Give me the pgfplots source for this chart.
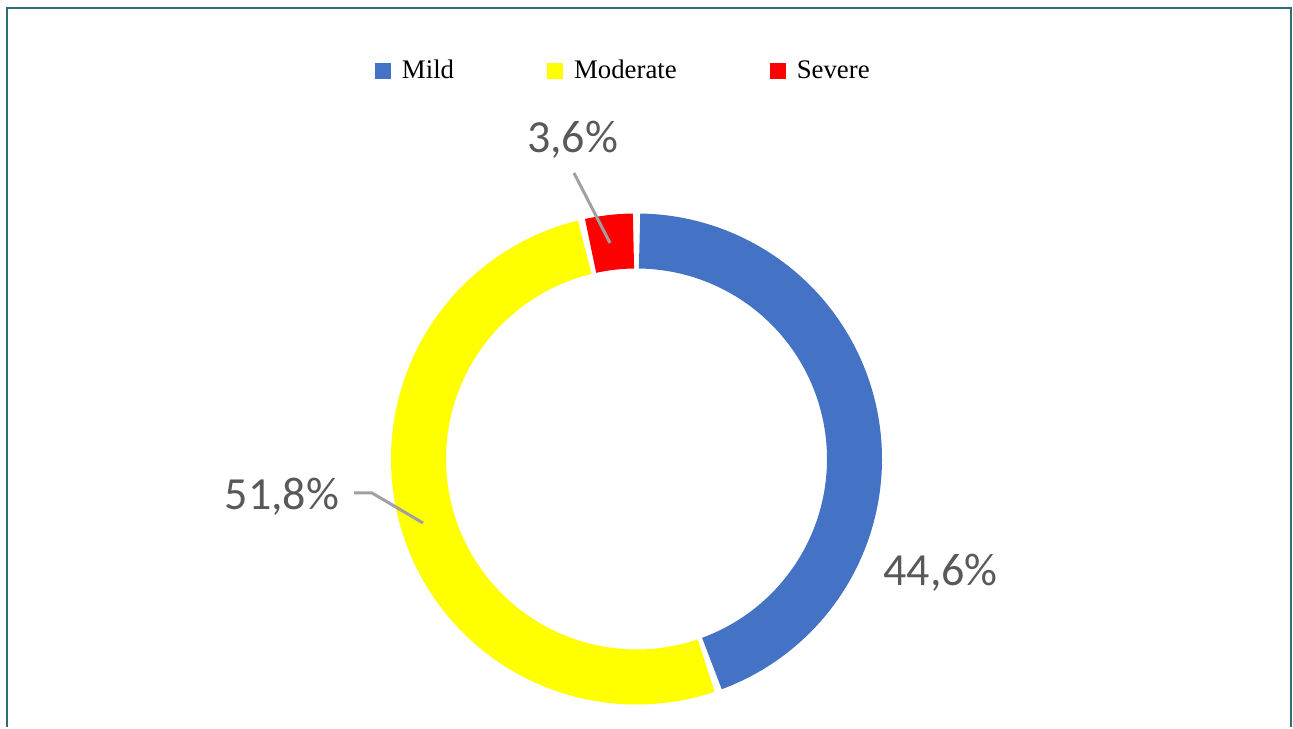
\documentclass[border=0pt]{standalone}
\usepackage{pgfplots}
\pgfplotsset{compat=1.18}
\usepackage{pgfplotstable}
\usepackage{fontspec}
\setmainfont{Liberation Serif}
\newfontfamily\calibri{Carlito}
\definecolor{mildblue}{HTML}{4472C4}
\definecolor{modyellow}{HTML}{FFFF00}
\definecolor{sevred}{HTML}{FF0000}
\definecolor{lblgray}{HTML}{595959}
\definecolor{leadgray}{HTML}{A0A0A0}
\definecolor{framecol}{RGB}{45,110,110}

\pgfplotstableread{
label value
Mild 44.6
Moderate 51.8
Severe 3.6
}\donutdata

\begin{document}
\begin{tikzpicture}
\pgfplotstablegetelem{0}{value}\of\donutdata \let\vA\pgfplotsretval
\pgfplotstablegetelem{1}{value}\of\donutdata \let\vB\pgfplotsretval
\pgfplotstablegetelem{2}{value}\of\donutdata \let\vC\pgfplotsretval
\pgfmathsetmacro{\aS}{90}
\pgfmathsetmacro{\aA}{\aS-3.6*\vA}
\pgfmathsetmacro{\aB}{\aA-3.6*\vB}
\pgfmathsetmacro{\aC}{\aB-3.6*\vC}
\pgfmathsetmacro{\g}{0.8}
\pgfmathsetmacro{\cx}{636.5}
\pgfmathsetmacro{\cy}{268}
\pgfmathsetmacro{\rmid}{218}
\begin{axis}[
  width=646.5pt, height=363.5pt, scale only axis,
  xmin=0, xmax=1293, ymin=0, ymax=727,
  hide axis, clip=false,
  legend columns=3,
  legend image code/.code={\fill[#1] (0pt,-4pt) rectangle (8pt,4pt);},
  legend style={draw=none, fill=none, inner sep=0pt, outer sep=0pt,
    at={(375/1293,656/727)}, anchor=west,
    font=\fontsize{13.4}{15}\selectfont,
    /tikz/every odd column/.append style={column sep=3.5pt},
    /tikz/every even column/.append style={column sep=44.5pt}},
]
\path (axis cs:0,0) (axis cs:1293,727);
\addlegendimage{fill=mildblue, draw=none}
\addlegendentry{Mild}
\addlegendimage{fill=modyellow, draw=none}
\addlegendentry{Moderate}
\addlegendimage{fill=sevred, draw=none}
\addlegendentry{Severe}

\addplot[draw=mildblue, line width=27.5pt, domain={\aA+\g}:{\aS-\g}, samples=120, variable=\t, forget plot]
  ({\cx+\rmid*cos(\t)}, {\cy+\rmid*sin(\t)});
\addplot[draw=modyellow, line width=27.5pt, domain={\aB+\g}:{\aA-\g}, samples=140, variable=\t, forget plot]
  ({\cx+\rmid*cos(\t)}, {\cy+\rmid*sin(\t)});
\addplot[draw=sevred, line width=27.5pt, domain={\aC+\g}:{\aB-\g}, samples=20, variable=\t, forget plot]
  ({\cx+\rmid*cos(\t)}, {\cy+\rmid*sin(\t)});

\addplot[leadgray, line width=1.5pt, forget plot] coordinates {(574,554) (610,484)};
\addplot[leadgray, line width=1.5pt, forget plot] coordinates {(354,234) (372,234) (423,204)};

\node[font=\calibri\fontsize{23}{27}\selectfont, text=lblgray] at (axis cs:940.5,154) {44,6\%};
\node[font=\calibri\fontsize{23}{27}\selectfont, text=lblgray] at (axis cs:572.5,587) {3,6\%};
\node[font=\calibri\fontsize{23}{27}\selectfont, text=lblgray] at (axis cs:282,230) {51,8\%};

\draw[framecol, line width=1.25pt] (axis cs:7,0) -- (axis cs:7,719) -- (axis cs:1291,719) -- (axis cs:1291,0);
\end{axis}
\end{tikzpicture}
\end{document}
